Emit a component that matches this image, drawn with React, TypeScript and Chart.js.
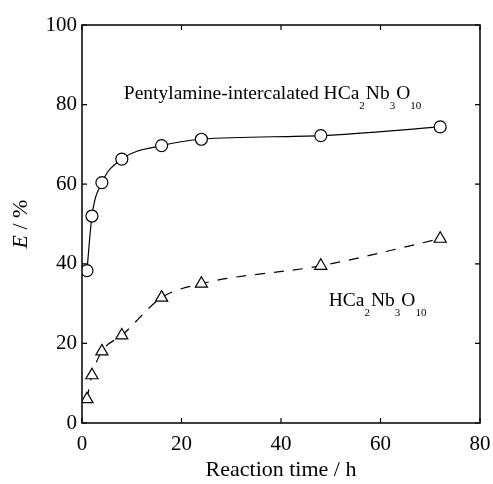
import React, { useEffect, useRef } from "react";
import { Chart, registerables } from "chart.js";

Chart.register(...registerables);

const reactionTimes = [1, 2, 4, 8, 16, 24, 48, 72];
const pentylamineE = [38.3, 52, 60.4, 66.3, 69.7, 71.3, 72.2, 74.4];
const hcaE = [6, 12, 18, 22, 31.5, 35, 39.5, 46.3];

const xTicks = [0, 20, 40, 60, 80];
const yTicks = [0, 20, 40, 60, 80, 100];

// label text parts: [text, isSubscript]
const labelPenty: [string, boolean][] = [
  ["Pentylamine-intercalated HCa", false],
  ["2", true],
  ["Nb", false],
  ["3", true],
  ["O", false],
  ["10", true],
];
const labelHca: [string, boolean][] = [
  ["HCa", false],
  ["2", true],
  ["Nb", false],
  ["3", true],
  ["O", false],
  ["10", true],
];
const labelAnchors = [
  { x: 8.4, y: 81.3, parts: labelPenty },
  { x: 49.6, y: 29.4, parts: labelHca },
];

const SERIF = "'Liberation Serif', 'DejaVu Serif', serif";

const framePlugin = {
  id: "frameAndLabels",
  afterDraw(chart: any) {
    const { ctx, chartArea } = chart;
    const xs = chart.scales.x;
    const ys = chart.scales.y;
    const { left, right, top, bottom } = chartArea;
    ctx.save();
    ctx.strokeStyle = "#000";
    ctx.lineWidth = 1.5;
    ctx.strokeRect(left, top, right - left, bottom - top);
    const tl = 5;
    ctx.lineWidth = 1.2;
    ctx.beginPath();
    xTicks.forEach((v) => {
      const px = xs.getPixelForValue(v);
      ctx.moveTo(px, bottom);
      ctx.lineTo(px, bottom - tl);
      ctx.moveTo(px, top);
      ctx.lineTo(px, top + tl);
    });
    yTicks.forEach((v) => {
      const py = ys.getPixelForValue(v);
      ctx.moveTo(left, py);
      ctx.lineTo(left + tl, py);
      ctx.moveTo(right, py);
      ctx.lineTo(right - tl, py);
    });
    ctx.stroke();

    // annotations
    ctx.fillStyle = "#000";
    ctx.textBaseline = "alphabetic";
    ctx.textAlign = "left";
    labelAnchors.forEach((a) => {
      let px = xs.getPixelForValue(a.x);
      const py = ys.getPixelForValue(a.y);
      a.parts.forEach(([t, sub]) => {
        ctx.font = sub ? `11px ${SERIF}` : `19.5px ${SERIF}`;
        ctx.fillText(t, px, sub ? py + 10 : py);
        px += ctx.measureText(t).width + (sub ? 1 : 0);
      });
    });

    // y axis title: italic E / %
    const cy = (top + bottom) / 2;
    const cx = 21;
    ctx.translate(cx, cy);
    ctx.rotate(-Math.PI / 2);
    ctx.textBaseline = "middle";
    ctx.font = `italic 22px ${SERIF}`;
    const wE = ctx.measureText("E").width;
    ctx.font = `22px ${SERIF}`;
    const wR = ctx.measureText(" / %").width;
    let sx = -(wE + wR) / 2;
    ctx.font = `italic 22px ${SERIF}`;
    ctx.fillText("E", sx, 0);
    sx += wE;
    ctx.font = `22px ${SERIF}`;
    ctx.fillText(" / %", sx, 0);
    ctx.restore();
  },
};

export default function App() {
  const ref = useRef<HTMLCanvasElement>(null);
  useEffect(() => {
    if (!ref.current) return;
    const chart = new Chart(ref.current, {
      type: "line",
      data: {
        datasets: [
          {
            label: "Pentylamine-intercalated HCa2Nb3O10",
            data: reactionTimes.map((t, i) => ({ x: t, y: pentylamineE[i] })),
            borderColor: "#000",
            borderWidth: 1.2,
            cubicInterpolationMode: "monotone",
            pointStyle: "circle",
            pointRadius: 6,
            pointBorderWidth: 1.2,
            pointBackgroundColor: "#fff",
            pointBorderColor: "#000",
            fill: false,
          },
          {
            label: "HCa2Nb3O10",
            data: reactionTimes.map((t, i) => ({ x: t, y: hcaE[i] })),
            borderColor: "#000",
            borderWidth: 1.2,
            borderDash: [10, 9],
            cubicInterpolationMode: "monotone",
            pointStyle: "triangle",
            pointRadius: 7,
            pointBorderWidth: 1.2,
            pointBackgroundColor: "#fff",
            pointBorderColor: "#000",
            fill: false,
          },
        ],
      },
      options: {
        responsive: false,
        animation: false,
        devicePixelRatio: 1,
        layout: { autoPadding: false, padding: { top: 25, right: 13, left: 0, bottom: 0 } },
        plugins: { legend: { display: false }, tooltip: { enabled: false } },
        scales: {
          x: {
            type: "linear",
            min: 0,
            max: 80,
            afterFit: (s: any) => {
              s.height = 61;
              s.paddingLeft = 0;
              s.paddingRight = 0;
            },
            afterBuildTicks: (s: any) => {
              s.ticks = xTicks.map((v) => ({ value: v }));
            },
            grid: { display: false, drawTicks: false },
            border: { display: false },
            ticks: {
              color: "#000",
              padding: 9,
              maxRotation: 0,
              font: { family: SERIF, size: 21 },
            },
            title: {
              display: true,
              text: "Reaction time / h",
              color: "#000",
              font: { family: SERIF, size: 22 },
              padding: { top: 0, bottom: 1 },
            },
          },
          y: {
            type: "linear",
            min: 0,
            max: 100,
            afterFit: (s: any) => {
              s.width = 82;
              s.paddingTop = 0;
              s.paddingBottom = 0;
            },
            afterBuildTicks: (s: any) => {
              s.ticks = yTicks.map((v) => ({ value: v }));
            },
            grid: { display: false, drawTicks: false },
            border: { display: false },
            ticks: {
              color: "#000",
              padding: 5,
              font: { family: SERIF, size: 21 },
            },
          },
        },
      },
      plugins: [framePlugin],
    } as any);
    return () => chart.destroy();
  }, []);
  return (
    <div style={{ position: "absolute", left: 0, top: 0, width: 493, height: 484, background: "#fff" }}>
      <canvas ref={ref} width={493} height={484} style={{ display: "block" }} />
    </div>
  );
}
